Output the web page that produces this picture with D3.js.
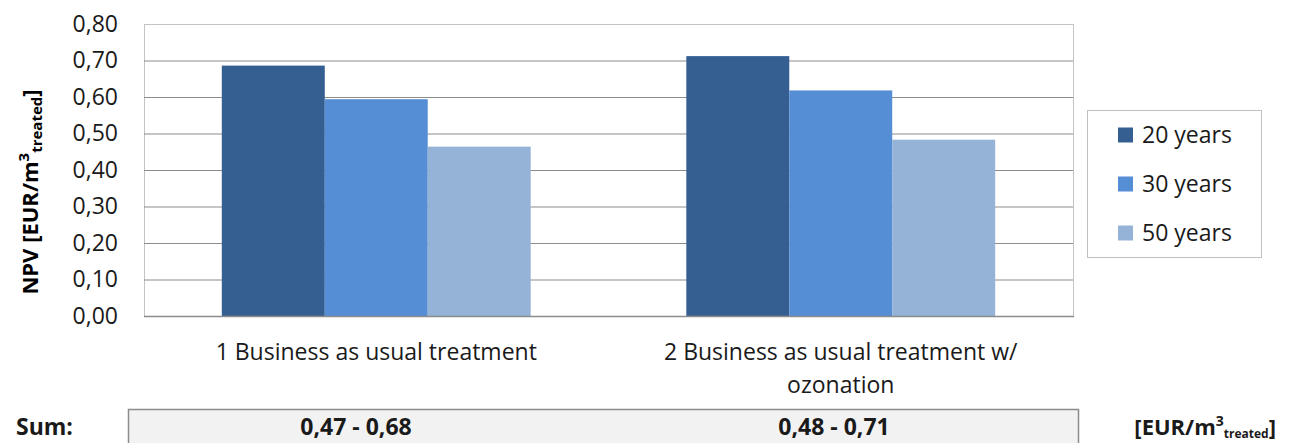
<!DOCTYPE html>
<html>
<head>
<meta charset="utf-8">
<script src="https://cdn.jsdelivr.net/npm/d3@7"></script>
<style>
  html, body { margin: 0; padding: 0; background: #fff; }
  svg { display: block; font-family: "Open Sans", sans-serif; }
</style>
</head>
<body>
<svg id="chart" width="1290" height="443"></svg>
<script>
// ---- data ----
const categories = ["1 Business as usual treatment", "2 Business as usual treatment w/ ozonation"];
const categoryLines = [["1 Business as usual treatment"], ["2 Business as usual treatment w/", "ozonation"]];
const seriesNames = ["20 years", "30 years", "50 years"];
const values20 = [0.686, 0.712];
const values30 = [0.594, 0.618];
const values50 = [0.464, 0.483];
const yTicks = [0, 0.1, 0.2, 0.3, 0.4, 0.5, 0.6, 0.7, 0.8];
const sumLabels = ["0,47 - 0,68", "0,48 - 0,71"];
const colors = ["#355F91", "#558ED5", "#95B3D7"];

const seriesValues = [values20, values30, values50];

// ---- layout ----
const svg = d3.select("#chart");
const plot = { left: 144, right: 1073, top: 24, bottom: 316 };
const FS = 23;

const x0 = d3.scaleBand().domain(categories)
  .range([plot.left, plot.right]).paddingInner(0.335).paddingOuter(0.1675);
const x1 = d3.scaleBand().domain(seriesNames).range([0, x0.bandwidth()]).padding(0);
const y = d3.scaleLinear().domain([0, 0.8]).range([plot.bottom, plot.top]);

// plot border (light gray)
svg.append("rect")
  .attr("x", plot.left + 0.5).attr("y", plot.top + 0.5)
  .attr("width", plot.right - plot.left).attr("height", plot.bottom - plot.top)
  .attr("fill", "none").attr("stroke", "#c4c4c4").attr("stroke-width", 1);

// y axis with gridlines
const fmt = d => d3.format(".2f")(d).replace(".", ",");
const yAxis = svg.append("g")
  .attr("transform", `translate(${plot.left},0)`)
  .call(d3.axisLeft(y).tickValues(yTicks).tickFormat(fmt)
        .tickSize(-(plot.right - plot.left)).tickPadding(26));
yAxis.select(".domain").remove();
yAxis.selectAll(".tick line")
  .attr("stroke", d => (d === 0.8 ? "#c4c4c4" : "#8c8c8c"))
  .attr("stroke-width", 1);
yAxis.selectAll(".tick text")
  .attr("font-family", "'Open Sans', sans-serif")
  .attr("font-size", FS).attr("fill", "#1a1a1a");

// bars
const groups = svg.append("g").selectAll("g")
  .data(categories)
  .join("g")
  .attr("transform", c => `translate(${x0(c)},0)`);

groups.selectAll("rect")
  .data((c, ci) => seriesNames.map((s, si) => ({ s, si, v: seriesValues[si][ci] })))
  .join("rect")
  .attr("x", d => x1(d.s))
  .attr("width", x1.bandwidth())
  .attr("y", d => y(d.v))
  .attr("height", d => y(0) - y(d.v))
  .attr("fill", d => colors[d.si]);

// x axis line
svg.append("line")
  .attr("x1", plot.left).attr("x2", plot.right + 1)
  .attr("y1", plot.bottom + 0.5).attr("y2", plot.bottom + 0.5)
  .attr("stroke", "#8c8c8c").attr("stroke-width", 1.5);

// category labels via axis
const xAxis = svg.append("g")
  .attr("transform", `translate(0,${plot.bottom})`)
  .call(d3.axisBottom(x0).tickSize(0).tickPadding(0));
xAxis.select(".domain").remove();
xAxis.selectAll(".tick text")
  .attr("font-family", "'Open Sans', sans-serif")
  .attr("font-size", FS).attr("fill", "#1a1a1a")
  .attr("dy", 0)
  .each(function (d) {
    const t = d3.select(this);
    const lines = categoryLines[categories.indexOf(d)];
    t.text(null);
    lines.forEach((ln, i) => {
      t.append("tspan").attr("x", 0).attr("y", 44 + i * 33).text(ln);
    });
  });

// y axis title
const yt = svg.append("text")
  .attr("transform", "translate(38,192) rotate(-90)")
  .attr("text-anchor", "middle")
  .attr("font-weight", "bold").attr("font-size", 22).attr("fill", "#000");
yt.append("tspan").text("NPV [EUR/m");
yt.append("tspan").attr("font-size", 15).attr("dy", -9).text("3");
yt.append("tspan").attr("font-size", 15).attr("dy", 13).text("treated");
yt.append("tspan").attr("dy", -4).text("]");

// legend
const legend = svg.append("g");
legend.append("rect")
  .attr("x", 1087.5).attr("y", 110.5).attr("width", 174).attr("height", 147)
  .attr("fill", "#fff").attr("stroke", "#bfbfbf");
const li = legend.selectAll("g.item").data(seriesNames).join("g")
  .attr("class", "item")
  .attr("transform", (d, i) => `translate(1118,${135 + i * 49})`);
li.append("rect").attr("x", 0).attr("y", -7.5).attr("width", 15).attr("height", 15)
  .attr("fill", (d, i) => colors[i]);
li.append("text").attr("x", 24).attr("y", 8)
  .attr("font-size", FS).attr("fill", "#1a1a1a").text(d => d);

// sum row
svg.append("text").attr("x", 16).attr("y", 435)
  .attr("font-weight", "bold").attr("font-size", FS).attr("fill", "#1a1a1a").text("Sum:");
svg.append("rect")
  .attr("x", 128.5).attr("y", 409.5).attr("width", 950).attr("height", 60)
  .attr("fill", "#f2f2f2").attr("stroke", "#8c8c8c").attr("stroke-width", 1.5);
svg.append("g").selectAll("text").data(categories).join("text")
  .attr("x", (c, i) => [356, 834][i])
  .attr("y", 435)
  .attr("text-anchor", "middle")
  .attr("font-weight", "bold").attr("font-size", 23).attr("fill", "#1a1a1a")
  .text((c, i) => sumLabels[i]);

const unit = svg.append("text").attr("x", 1276).attr("y", 435)
  .attr("text-anchor", "end")
  .attr("font-weight", "bold").attr("font-size", 22).attr("fill", "#1a1a1a");
unit.append("tspan").text("[EUR/m");
unit.append("tspan").attr("font-size", 14).attr("dy", -9).text("3");
unit.append("tspan").attr("font-size", 12).attr("dy", 12).text("treated");
unit.append("tspan").attr("dy", -3).text("]");
</script>
</body>
</html>
